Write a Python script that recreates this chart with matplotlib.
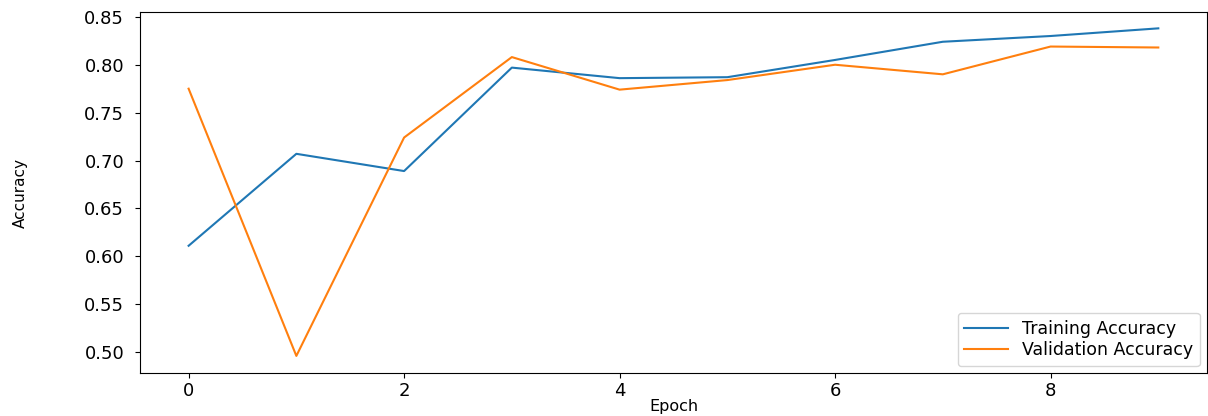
import matplotlib
matplotlib.use("Agg")
import matplotlib.pyplot as plt

# per-epoch accuracy
epochs = list(range(10))
train_acc = [0.611, 0.707, 0.689, 0.797, 0.786, 0.787, 0.805, 0.824, 0.830, 0.838]
val_acc = [0.775, 0.496, 0.724, 0.808, 0.774, 0.784, 0.800, 0.790, 0.819, 0.818]

fig = plt.figure(figsize=(12.08, 4.16), dpi=100)
ax = fig.add_axes([0.116, 0.103, 0.883, 0.868])

ax.plot(epochs, train_acc, color='#1f77b4', lw=1.5, label='Training Accuracy')
ax.plot(epochs, val_acc, color='#ff7f0e', lw=1.5, label='Validation Accuracy')

ax.set_xlim(-0.45, 9.45)
ax.set_ylim(0.478, 0.855)
ax.set_yticks([0.50, 0.55, 0.60, 0.65, 0.70, 0.75, 0.80, 0.85])
ax.set_xticks([0, 2, 4, 6, 8])
ax.tick_params(labelsize=13, pad=3)
ax.tick_params(axis='y', pad=8)
ax.set_xlabel('Epoch', fontsize=11.5, labelpad=-1)
ax.set_ylabel('Accuracy', fontsize=11)
ax.yaxis.set_label_coords(-0.105, 0.5)
ax.legend(loc='lower right', fontsize=12.5, handlelength=2.5,
          borderaxespad=0.4, labelspacing=0.2)

fig.savefig('out.png', dpi=100)
